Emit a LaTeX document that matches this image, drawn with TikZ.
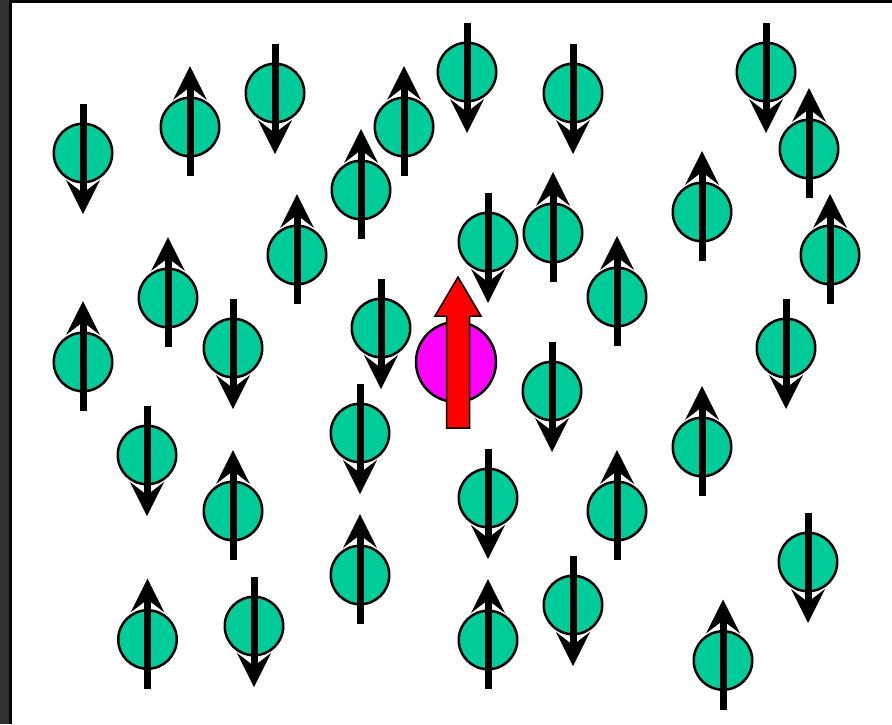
\documentclass[tikz,border=0pt]{standalone}
\usetikzlibrary{calc}
\definecolor{spingreen}{HTML}{00CC99}
\definecolor{framegray}{HTML}{323232}
\definecolor{impmagenta}{HTML}{FF00FF}
\definecolor{imparrow}{HTML}{FF0000}
\tikzset{
  ball/.style={circle,draw=black,line width=2.5pt,fill=spingreen,minimum size=58.5pt,inner sep=0pt},
  shaft/.style={line width=7pt,black},
  magball/.style={circle,draw=black,line width=2.5pt,fill=impmagenta,minimum width=80pt,inner sep=0pt},
  bigarrow/.style={fill=imparrow,draw=black,line width=1.5pt,line join=miter},
}
\newcommand{\dnspin}[3]{%
  \node[ball] (#1) at (#2,#3) {};
  \draw[shaft] ($(#1)+(0,-49)$) -- ($(#1)+(0,42)$);
  \fill ($(#1)+(0,61)$) -- ($(#1)+(17,27)$) -- ($(#1)+(0,40)$) -- ($(#1)+(-17,27)$) -- cycle;}
\newcommand{\upspin}[3]{%
  \node[ball] (#1) at (#2,#3) {};
  \draw[shaft] ($(#1)+(0,49)$) -- ($(#1)+(0,-42)$);
  \fill ($(#1)+(0,-61)$) -- ($(#1)+(17,-27)$) -- ($(#1)+(0,-40)$) -- ($(#1)+(-17,-27)$) -- cycle;}
\begin{document}
\begin{tikzpicture}[x=1pt,y=-1pt]
\useasboundingbox (0,0) rectangle (892,724);
\fill[white] (0,0) rectangle (892,724);
\fill[framegray] (0,0) rectangle (9,724);
\fill[black] (9,0) rectangle (12,724);
\fill[black] (9,0) rectangle (892,3);
% spins
\dnspin{s1}{83}{153}
\upspin{s2}{190}{127}
\dnspin{s3}{275}{93}
\upspin{s4}{404}{127}
\dnspin{s5}{467}{72}
\dnspin{s6}{573}{93}
\dnspin{s7}{766}{72}
\upspin{s8}{809}{149}
\upspin{s9}{361}{190}
\upspin{s10}{297}{255}
\dnspin{s11}{488}{242}
\upspin{s12}{553}{233}
\upspin{s13}{702}{212}
\upspin{s14}{830}{255}
\upspin{s15}{168}{298}
\dnspin{s16}{233}{348}
\upspin{s17}{83}{362}
\dnspin{s18}{381}{328}
\upspin{s19}{617}{297}
\dnspin{s20}{786}{348}
\dnspin{s21}{552}{391}
\dnspin{s22}{147}{455}
\dnspin{s23}{360}{433}
\upspin{s24}{702}{447}
\upspin{s25}{233}{511}
\dnspin{s26}{488}{498}
\upspin{s27}{617}{511}
\upspin{s28}{360}{575}
\dnspin{s29}{808}{562}
\upspin{s30}{147.5}{639.5}
\dnspin{s31}{254}{626}
\upspin{s32}{488}{640}
\dnspin{s33}{573}{605}
\upspin{s34}{723}{660.5}
% central impurity
\node[magball,minimum height=79pt] (m) at (456,362) {};
\draw[bigarrow] ($(m)+(-9.5,66)$) -- ($(m)+(13.5,66)$) -- ($(m)+(13.5,-46)$) -- ($(m)+(25,-46)$)
  -- ($(m)+(2,-85)$) -- ($(m)+(-21,-46)$) -- ($(m)+(-9.5,-46)$) -- cycle;
\end{tikzpicture}
\end{document}
